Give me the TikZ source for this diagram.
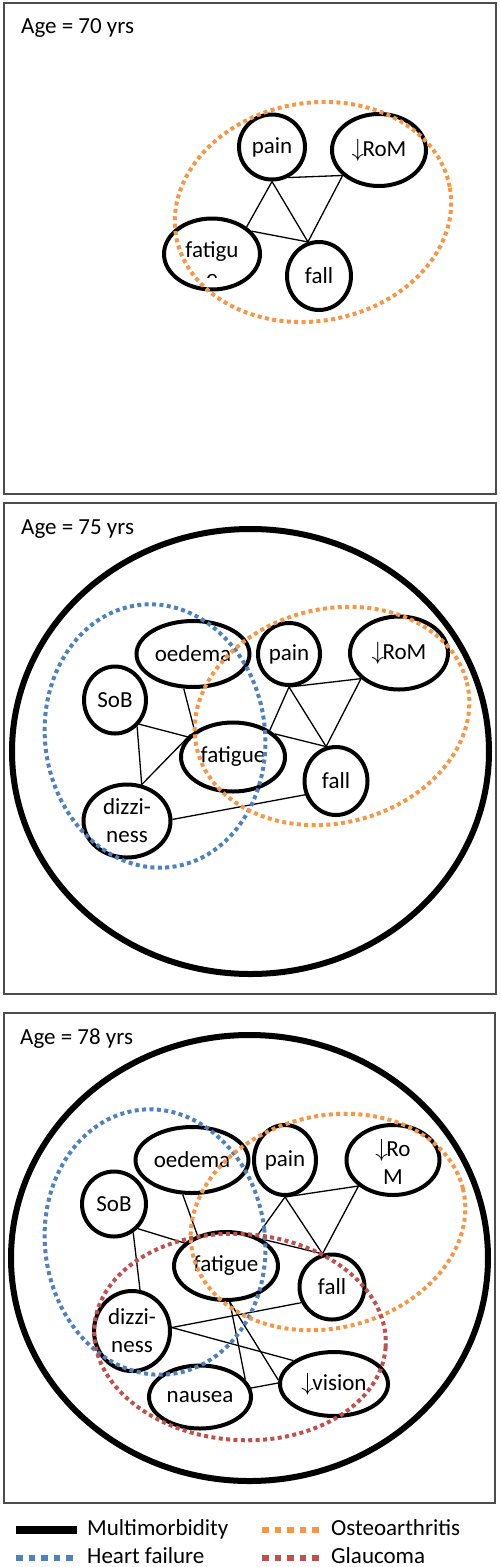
\documentclass[tikz,border=0pt]{standalone}
\usepackage{fontspec}
\setmainfont{Carlito}
\usepackage{tikz}
\usetikzlibrary{shapes.geometric}
\definecolor{oaorange}{HTML}{F79646}
\definecolor{hfblue}{HTML}{4F81BD}
\definecolor{glred}{HTML}{C0504D}
\newcommand{\dn}{$\downarrow$\kern-1.5pt}
\tikzset{
  symptom/.style={
    ellipse, draw, line width=4pt, inner sep=0pt, align=center,
    font=\fontsize{23}{28}\selectfont
  },
  cutlabel/.style={
    inner sep=0pt, align=center, font=\fontsize{23}{28}\selectfont
  },
  symlink/.style={line width=1.3pt},
  mmring/.style={draw, line width=6pt},
  oadots/.style={draw=oaorange, line width=4pt, dash pattern=on 4pt off 3.4pt},
  hfdots/.style={draw=hfblue, line width=4pt, dash pattern=on 4pt off 3.4pt},
  gldots/.style={draw=glred, line width=4pt, dash pattern=on 4pt off 3.4pt},
  panelbox/.style={draw=black!70, line width=1.3pt},
  panellabel/.style={
    anchor=base west, inner sep=0pt, font=\fontsize{23}{28}\selectfont
  },
  legendlabel/.style={
    anchor=base west, inner sep=0pt, font=\fontsize{23}{28}\selectfont
  },
}

\begin{document}
\begin{tikzpicture}[x=1pt, y=-1pt]
  \useasboundingbox (0,0) rectangle (500,1567);

  % ── Age 70 ──
  \draw[panelbox] (4,3) rectangle (496,494);
  \node[panellabel] (age70) at (21,33) {Age = 70 yrs};

  \node[symptom, minimum width=66pt, minimum height=65pt] (p1pain) at (272,147) {pain};
  \node[symptom, minimum width=94pt, minimum height=72pt] (p1rom) at (379,150) {\dn RoM};
  \node[symptom, minimum width=96pt, minimum height=71pt,
    path picture={
      \clip (path picture bounding box.north west) rectangle
        ([yshift=-23pt]path picture bounding box.east);
      \node[cutlabel] (p1fattext) at ([yshift=-10pt]path picture bounding box.center) {fatigu\\e};
    }] (p1fat) at (212,254) {};
  \node[symptom, minimum width=64pt, minimum height=68pt] (p1fall) at (319,276) {fall};

  \draw[symlink] (p1pain.-62) -- (p1rom.-145);
  \draw[symlink] (p1pain.south) -- (p1fat.38);
  \draw[symlink] (p1pain.south) -- (p1fall.108);
  \draw[symlink] (p1rom.-145) -- (p1fall.108);
  \draw[symlink] (p1fat.30) -- (p1fall.108);

  \draw[oadots, rotate around={10:(313,212)}] (313,212) ellipse [x radius=139, y radius=109];

  % ── Age 75 ──
  \draw[panelbox] (4,503) rectangle (496,994);
  \node[panellabel] (age75) at (21,534) {Age = 75 yrs};
  \draw[mmring] (250.5,751.5) ellipse [x radius=238.5, y radius=222.5];

  \node[symptom, minimum width=113pt, minimum height=66pt] (p2oed) at (193,654) {oedema};
  \node[symptom, minimum width=62pt, minimum height=62pt] (p2pain) at (289,654) {pain};
  \node[symptom, minimum width=98pt, minimum height=73pt] (p2rom) at (399,653) {\dn RoM};
  \node[symptom, minimum width=62pt, minimum height=67pt] (p2sob) at (115,700) {SoB};
  \node[symptom, minimum width=104pt, minimum height=69pt] (p2fat) at (233,757) {fatigue};
  \node[symptom, minimum width=63pt, minimum height=68pt] (p2fall) at (336,781) {fall};
  \node[symptom, minimum width=87pt, minimum height=73pt] (p2diz) at (127,821) {dizzi-\\ness};

  \draw[symlink] (p2oed.-105) -- (p2fat.146);
  \draw[symlink] (p2sob.-45) -- (p2fat.156);
  \draw[symlink] (p2sob.-50) -- (p2diz.68);
  \draw[symlink] (p2diz.68) -- (p2fat.152);
  \draw[symlink] (p2pain.south) -- (p2fat.36);
  \draw[symlink] (p2pain.south) -- (p2rom.-146);
  \draw[symlink] (p2pain.south) -- (p2fall.106);
  \draw[symlink] (p2rom.-146) -- (p2fall.106);
  \draw[symlink] (p2fat.29) -- (p2fall.106);
  \draw[symlink] (p2diz.2) -- (p2fall.204);

  \draw[hfdots, rotate around={7:(155,736)}] (155,736) ellipse [x radius=110, y radius=132];
  \draw[oadots, rotate around={14:(332,716)}] (332,716) ellipse [x radius=139, y radius=107];

  % ── Age 78 ──
  \draw[panelbox] (4,1013) rectangle (495,1503);
  \node[panellabel] (age78) at (20,1044) {Age = 78 yrs};
  \draw[mmring] (249.5,1258) ellipse [x radius=238.5, y radius=223];

  \node[symptom, minimum width=113pt, minimum height=66pt] (p3oed) at (192,1160) {oedema};
  \node[symptom, minimum width=62pt, minimum height=70pt] (p3pain) at (285,1160) {pain};
  \node[symptom, minimum width=93pt, minimum height=70pt,
    path picture={
      \clip (path picture bounding box.north west) rectangle
        ([yshift=-23pt]path picture bounding box.east);
      \node[cutlabel] (p3romtext) at ([yshift=-2pt]path picture bounding box.center) {\dn Ro\\M};
    }] (p3rom) at (393,1160) {};
  \node[symptom, minimum width=64pt, minimum height=65pt] (p3sob) at (114,1204) {SoB};
  \node[symptom, minimum width=104pt, minimum height=68pt] (p3fat) at (226,1266) {fatigue};
  \node[symptom, minimum width=65pt, minimum height=65pt] (p3fall) at (332,1287) {fall};
  \node[symptom, minimum width=76pt, minimum height=80pt] (p3diz) at (132,1331) {dizzi-\\ness};
  \node[symptom, minimum width=102pt, minimum height=63pt] (p3nau) at (200,1397) {nausea};
  \node[symptom, minimum width=108pt, minimum height=64pt] (p3vis) at (334,1384) {\dn vision};

  \draw[symlink] (p3oed.-105) -- (p3fat.133);
  \draw[symlink] (p3sob.-46) -- (p3fat.151);
  \draw[symlink] (p3sob.-56) -- (p3diz.79);
  \draw[symlink] (p3pain.south) -- (p3rom.-143);
  \draw[symlink] (p3pain.south) -- (p3fat.44);
  \draw[symlink] (p3pain.south) -- (p3fall.106);
  \draw[symlink] (p3rom.-143) -- (p3fall.106);
  \draw[symlink] (p3fat.37) -- (p3fall.106);
  \draw[symlink] (p3diz.5) -- (p3fall.207);
  \draw[symlink] (p3diz.5) -- (p3vis.150);
  \draw[symlink] (p3fat.-84) -- (p3nau.21);
  \draw[symlink] (p3fat.-84) -- (p3vis.176);
  \draw[symlink] (p3nau.10) -- (p3vis.179);

  \draw[hfdots, rotate around={7:(155,1242)}] (155,1242) ellipse [x radius=110, y radius=133];
  \draw[oadots, rotate around={14:(328,1222)}] (328,1222) ellipse [x radius=139, y radius=106];
  \draw[gldots, rotate around={-4:(240,1337)}] (240,1337) ellipse [x radius=146, y radius=103];

  % ── Legend ──
  \draw[line width=8pt] (16,1530) -- (77,1530);
  \node[legendlabel] (lgmm) at (87,1535) {Multimorbidity};
  \draw[hfdots, line width=6.5pt, dash pattern=on 6.5pt off 6pt] (16,1558) -- (77,1558);
  \node[legendlabel] (lghf) at (87,1563) {Heart failure};
  \draw[oadots, line width=6.5pt, dash pattern=on 6.5pt off 6pt] (262,1530) -- (322,1530);
  \node[legendlabel] (lgoa) at (331,1535) {Osteoarthritis};
  \draw[gldots, line width=6.5pt, dash pattern=on 6.5pt off 6pt] (262,1558) -- (322,1558);
  \node[legendlabel] (lggl) at (331,1563) {Glaucoma};
\end{tikzpicture}
\end{document}
